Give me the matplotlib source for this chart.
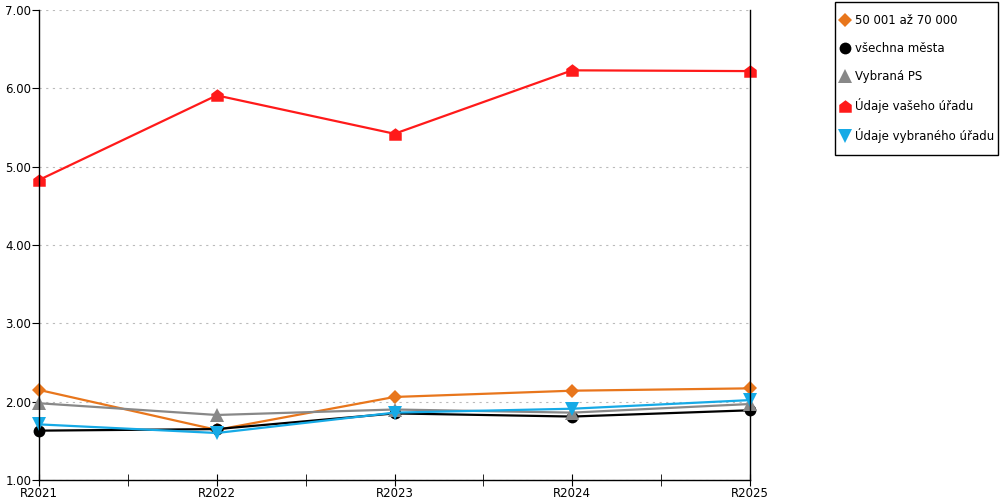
import matplotlib
matplotlib.use("Agg")
import matplotlib.pyplot as plt
from matplotlib.lines import Line2D
from matplotlib.patches import Rectangle

# chart data
years = ["R2021", "R2022", "R2023", "R2024", "R2025"]
labels = ["50 001 až 70 000", "všechna města", "Vybraná PS",
          "Údaje vašeho úřadu", "Údaje vybraného úřadu"]
orange_vals = [2.15, 1.64, 2.06, 2.14, 2.17]
black_vals = [1.63, 1.65, 1.85, 1.81, 1.89]
gray_vals = [1.98, 1.83, 1.90, 1.86, 1.97]
red_vals = [4.83, 5.91, 5.42, 6.23, 6.22]
blue_vals = [1.71, 1.60, 1.86, 1.91, 2.02]

house = [(-1, -1), (1, -1), (1, 0.25), (0, 1), (-1, 0.25), (-1, -1)]

series = [
    (orange_vals, "#E8761C", "D", 7.5),
    (black_vals, "#000000", "o", 8.5),
    (gray_vals, "#888888", "^", 9.5),
    (red_vals, "#FF1A1A", house, 9),
    (blue_vals, "#16AAE6", "v", 9.5),
]

plt.rcParams["font.family"] = "DejaVu Sans"
plt.rcParams["font.size"] = 8.5

fig = plt.figure(figsize=(10, 5), dpi=100)
ax = fig.add_axes([0.039, 0.04, 0.711, 0.94])

x = list(range(len(years)))
handles = []
for (vals, color, marker, ms), label in zip(series, labels):
    ax.plot(x, vals, color=color, lw=1.6, marker=marker, ms=ms,
            markeredgewidth=0, clip_on=False)
    handles.append(Line2D([], [], color=color, marker=marker, ms=ms,
                          markeredgewidth=0, linestyle="none", label=label))

ax.set_xlim(0, 4)
ax.set_ylim(1, 7)
ax.set_xticks(x)
ax.set_xticklabels(years)
ax.set_xticks([0.5, 1.5, 2.5, 3.5], minor=True)
ax.set_yticks([1, 2, 3, 4, 5, 6, 7])
ax.set_yticklabels([f"{v:.2f}" for v in range(1, 8)])

ax.tick_params(axis="x", which="both", direction="inout", length=8, pad=1)
ax.tick_params(axis="y", direction="out", length=5, pad=0.5)
ax.grid(axis="y", color="#BBBBBB", linestyle=(0, (2, 4)), lw=0.8)

ax.spines["top"].set_visible(False)
for s in ["left", "right", "bottom"]:
    ax.spines[s].set_color("black")
    ax.spines[s].set_linewidth(1)

# legend box drawn separately so the padding can match
fig.patches.append(Rectangle((0.835, 0.69), 0.163, 0.306,
                             transform=fig.transFigure, fill=False,
                             edgecolor="black", lw=1))
fig.legend(handles=handles, loc="upper left",
           bbox_to_anchor=(0.842, 0.971), frameon=False, fontsize=8.5,
           handlelength=0.45, handletextpad=0.65, labelspacing=1.27,
           borderpad=0, borderaxespad=0)

fig.savefig("out.png", dpi=100)
